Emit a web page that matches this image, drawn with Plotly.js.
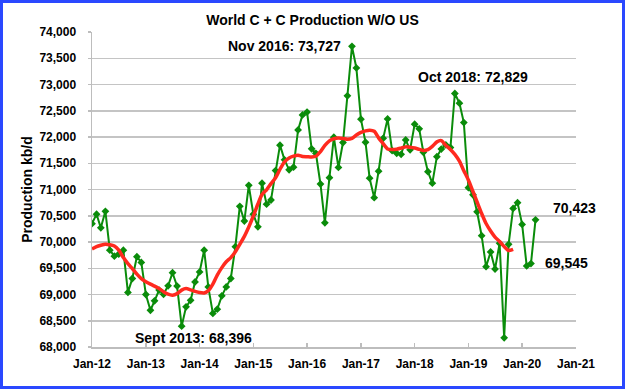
<!DOCTYPE html>
<html>
<head>
<meta charset="utf-8">
<script src="https://cdn.plot.ly/plotly-3.0.1.min.js"></script>
<style>
  html, body { margin:0; padding:0; background:#fff; }
  #wrap { position:relative; width:625px; height:389px; }
  #chart { position:absolute; left:0; top:0; width:625px; height:389px; }
  #frame { position:absolute; left:0; top:0; width:625px; height:389px; box-sizing:border-box;
           border:3px solid #2a48ff; pointer-events:none; z-index:10; }
</style>
</head>
<body>
<div id="wrap"><div id="chart"></div><div id="frame"></div></div>
<script>
// Months Jan 2012 .. Apr 2020
const months = [
  '2012-01','2012-02','2012-03','2012-04','2012-05','2012-06','2012-07','2012-08','2012-09','2012-10','2012-11','2012-12',
  '2013-01','2013-02','2013-03','2013-04','2013-05','2013-06','2013-07','2013-08','2013-09','2013-10','2013-11','2013-12',
  '2014-01','2014-02','2014-03','2014-04','2014-05','2014-06','2014-07','2014-08','2014-09','2014-10','2014-11','2014-12',
  '2015-01','2015-02','2015-03','2015-04','2015-05','2015-06','2015-07','2015-08','2015-09','2015-10','2015-11','2015-12',
  '2016-01','2016-02','2016-03','2016-04','2016-05','2016-06','2016-07','2016-08','2016-09','2016-10','2016-11','2016-12',
  '2017-01','2017-02','2017-03','2017-04','2017-05','2017-06','2017-07','2017-08','2017-09','2017-10','2017-11','2017-12',
  '2018-01','2018-02','2018-03','2018-04','2018-05','2018-06','2018-07','2018-08','2018-09','2018-10','2018-11','2018-12',
  '2019-01','2019-02','2019-03','2019-04','2019-05','2019-06','2019-07','2019-08','2019-09','2019-10','2019-11','2019-12',
  '2020-01','2020-02','2020-03','2020-04'
];

// World C+C production excluding US, kb/d
const production = [
  70350,70530,70270,70585,69845,69730,69770,69845,69040,69305,69720,69610,
  69000,68700,68880,69085,69005,69165,69415,69160,68396,68765,68890,69240,
  69430,69845,69145,68640,68720,68975,69145,69305,69910,70680,70400,71080,
  70530,70290,71120,70720,70800,71360,71845,71565,71375,71425,72135,72420,
  72475,71775,71690,71105,70365,71225,71995,71420,71895,72785,73727,73315,
  72340,71900,71215,70845,71350,71975,72345,71740,71690,71670,71945,71755,
  72245,72155,71710,71340,71120,71625,71770,71850,71800,72829,72645,72275,
  71035,70900,70575,70120,69530,69810,69485,69975,68175,69955,70640,70750,
  70335,69545,69590,70423
];

// 12-month average line (Jan 2012 .. Nov 2019)
const average = [
  69865,69911,69938,69959,69949,69923,69846,69703,69589,69493,69388,69303,
  69245,69198,69159,69112,69054,69007,68988,69016,69083,69112,69089,69060,
  69037,69030,69074,69198,69369,69512,69623,69703,69816,69955,70106,70285,
  70495,70724,70903,70995,71111,71224,71386,71527,71602,71636,71653,71630,
  71625,71620,71634,71720,71840,71926,71966,71980,71972,71955,71974,72037,
  72088,72117,72130,72109,71983,71873,71773,71760,71768,71789,71812,71804,
  71789,71764,71743,71760,71821,71907,71930,71840,71764,71668,71539,71359,
  71182,70962,70762,70543,70352,70209,70094,70010,69913,69837,69860
];

const yTitle = 'Production kb/d';
const chartTitle = 'World C + C Production W/O US';

const x = months.map(m => m + '-01');
const xAvg = x.slice(0, average.length);

const FONT = '"Liberation Sans", Arial, Helvetica, sans-serif';

function fmt(v){ return v.toLocaleString('en-US'); }

const iNov16 = months.indexOf('2016-11');
const iSep13 = months.indexOf('2013-09');
const iOct18 = months.indexOf('2018-10');
const iLast = months.length - 1;
const iLow20 = months.length - 3;

const traces = [
  {
    x: x, y: production, type: 'scatter', mode: 'lines+markers',
    line: {color: '#0a8c0a', width: 2},
    marker: {symbol: 'diamond', size: 6, color: '#0a8c0a'},
    hoverinfo: 'skip'
  },
  {
    x: xAvg, y: average, type: 'scatter', mode: 'lines',
    line: {color: '#ff2a1f', width: 3.5, shape: 'spline', smoothing: 0.6},
    hoverinfo: 'skip'
  }
];

const annFont = {family: FONT, size: 14, color: '#000', weight: 'bold'};
const annotations = [
  {x: x[iNov16], y: production[iNov16], xref:'x', yref:'y', text: 'Nov 2016: ' + fmt(production[iNov16]),
   showarrow:false, xanchor:'right', yanchor:'middle', xshift:-9, yshift:0, font: annFont},
  {x: x[iOct18], y: production[iOct18], xref:'x', yref:'y', text: 'Oct 2018: ' + fmt(production[iOct18]),
   showarrow:false, xanchor:'center', yanchor:'middle', xshift:18, yshift:16, font: annFont},
  {x: x[iSep13], y: production[iSep13], xref:'x', yref:'y', text: 'Sept 2013: ' + fmt(production[iSep13]),
   showarrow:false, xanchor:'center', yanchor:'middle', xshift:12, yshift:-12, font: annFont},
  {x: x[iLast], y: production[iLast], xref:'x', yref:'y', text: fmt(production[iLast]),
   showarrow:false, xanchor:'left', yanchor:'middle', xshift:15, yshift:12, font: annFont},
  {x: x[iLow20], y: production[iLow20], xref:'x', yref:'y', text: fmt(production[iLow20]),
   showarrow:false, xanchor:'left', yanchor:'middle', xshift:16, yshift:3, font: annFont}
];

const layout = {
  width: 625, height: 389,
  margin: {l: 92, r: 49, t: 32, b: 42},
  paper_bgcolor: '#fff', plot_bgcolor: '#fff',
  showlegend: false,
  font: {family: FONT, color: '#000'},
  title: {text: chartTitle, font: {family: FONT, size: 14, weight: 'bold', color: '#000'},
          x: 0.5, xref: 'container', xanchor: 'center', y: 1 - 20/389, yref: 'container', yanchor: 'middle'},
  xaxis: {
    type: 'date', range: ['2012-01-01', '2021-01-01'],
    tick0: '2012-01-01', dtick: 'M12', tickformat: '%b-%y',
    showgrid: false, zeroline: false,
    showline: true, linecolor: '#bdbdbd', linewidth: 1.5,
    ticks: 'inside', ticklen: 4, tickcolor: '#bdbdbd', tickwidth: 1.5,
    ticklabelstandoff: 5,
    tickfont: {family: FONT, size: 12, weight: 'bold', color: '#000'}
  },
  yaxis: {
    range: [68000, 74000], dtick: 500, tick0: 68000, tickformat: ',d',
    showgrid: true, gridcolor: '#c4c4c4', gridwidth: 1.5, zeroline: false,
    showline: true, linecolor: '#bdbdbd', linewidth: 1.5,
    ticks: 'outside', ticklen: 3, tickcolor: '#bdbdbd', tickwidth: 1.5,
    ticklabelstandoff: 9,
    tickfont: {family: FONT, size: 12, weight: 'bold', color: '#000'},
    title: {text: yTitle, font: {family: FONT, size: 14, weight: 'bold', color: '#000'}, standoff: 3}
  },
  annotations: annotations
};

Plotly.newPlot('chart', traces, layout, {staticPlot: true, displayModeBar: false});
</script>
</body>
</html>
